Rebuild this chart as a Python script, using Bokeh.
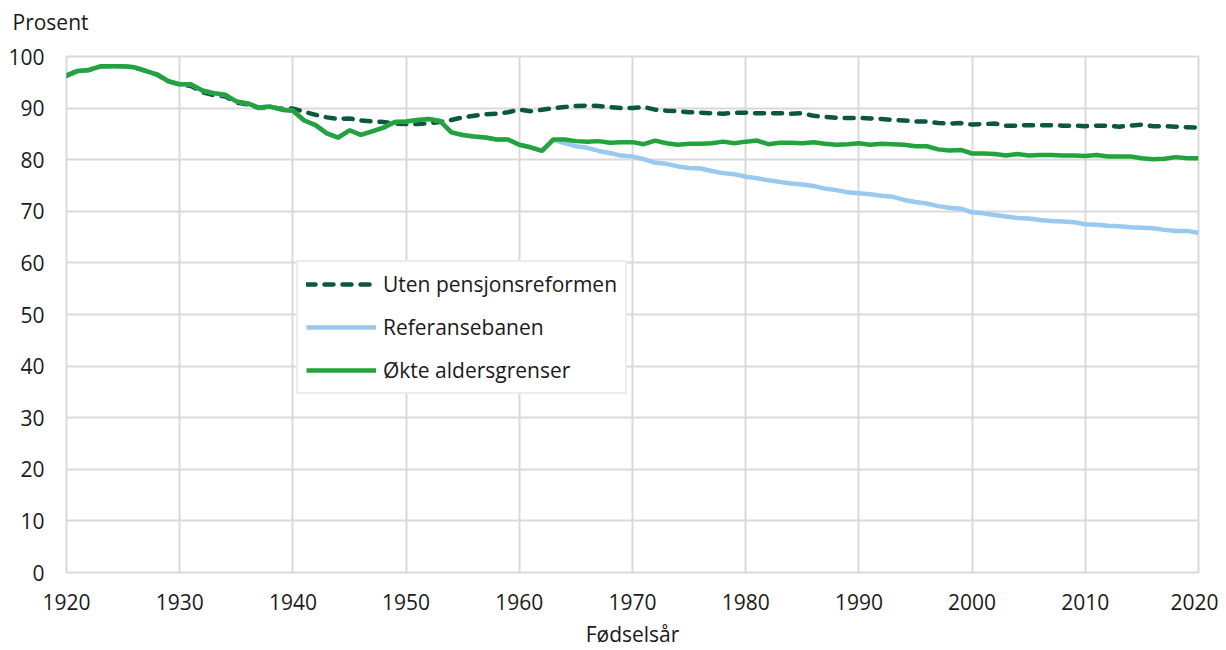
from bokeh.plotting import figure
from bokeh.models import Range1d, Legend, LegendItem, FixedTicker, Title
from bokeh.embed import file_html
from bokeh.resources import INLINE

years = list(range(1920, 2021))

okte = [96.3, 97.2, 97.4, 98.1, 98.1, 98.1, 97.9, 97.2, 96.5, 95.2,
        94.6, 94.6, 93.4, 92.9, 92.6, 91.3, 90.9, 90.1, 90.3, 89.7,
        89.5, 87.6, 86.7, 85.1, 84.3, 85.7, 84.8, 85.5, 86.2, 87.3,
        87.4, 87.7, 87.9, 87.5, 85.3, 84.8, 84.5, 84.3, 83.9, 83.9,
        82.9, 82.4, 81.7, 83.9, 83.9, 83.6, 83.5, 83.6, 83.3, 83.4,
        83.4, 83.0, 83.7, 83.2, 82.9, 83.1, 83.1, 83.2, 83.5, 83.2,
        83.5, 83.7, 83.0, 83.3, 83.3, 83.2, 83.4, 83.1, 82.9, 83.0,
        83.2, 82.9, 83.1, 83.0, 82.9, 82.6, 82.6, 82.0, 81.8, 81.9,
        81.2, 81.2, 81.1, 80.8, 81.1, 80.8, 80.9, 80.9, 80.8, 80.8,
        80.7, 80.9, 80.6, 80.6, 80.6, 80.3, 80.1, 80.2, 80.5, 80.3,
        80.3]

referanse = okte[:43] + [
    83.9, 83.2, 82.6, 82.3, 81.7, 81.3, 80.8,
    80.6, 80.1, 79.4, 79.2, 78.7, 78.4, 78.3, 77.8, 77.4, 77.2,
    76.7, 76.4, 76.0, 75.7, 75.4, 75.2, 74.9, 74.4, 74.1, 73.7,
    73.5, 73.3, 73.0, 72.8, 72.2, 71.8, 71.5, 71.0, 70.7, 70.5,
    69.8, 69.6, 69.3, 69.0, 68.7, 68.6, 68.3, 68.1, 68.0, 67.9,
    67.5, 67.4, 67.2, 67.1, 66.9, 66.8, 66.7, 66.4, 66.2, 66.2,
    65.8]

uten = okte[:11] + [
    94.3, 93.1, 92.5, 92.3, 91.1, 90.7, 90.0, 90.2, 89.9,
    89.9, 89.3, 88.7, 88.2, 87.9, 88.0, 87.6, 87.4, 87.3, 87.0,
    86.9, 86.9, 87.1, 87.3, 87.7, 88.2, 88.5, 88.8, 88.9, 89.2,
    89.7, 89.4, 89.7, 90.0, 90.2, 90.4, 90.5, 90.4, 90.2, 90.0,
    90.0, 90.2, 89.7, 89.5, 89.4, 89.2, 89.1, 89.0, 88.9, 89.1,
    89.1, 89.0, 89.0, 89.0, 88.9, 89.0, 88.5, 88.3, 88.1, 88.1,
    88.1, 88.0, 87.9, 87.7, 87.6, 87.4, 87.4, 87.1, 87.0, 87.1,
    86.8, 86.9, 87.0, 86.6, 86.6, 86.7, 86.7, 86.7, 86.6, 86.6,
    86.5, 86.6, 86.6, 86.4, 86.6, 86.8, 86.5, 86.5, 86.4, 86.3,
    86.2]

series_names = ["Uten pensjonsreformen", "Referansebanen", "Økte aldersgrenser"]
x_ticks = list(range(1920, 2021, 10))
y_ticks = list(range(0, 101, 10))

FONT = "Open Sans"
FS = "21px"
TXT = "#1a1a1a"
GRID = "#d9d9d9"

p = figure(width=1218, height=650, output_backend="svg", toolbar_location=None,
           x_range=Range1d(1920, 2020), y_range=Range1d(0, 100),
           min_border_left=66, min_border_right=20, min_border_top=56,
           min_border_bottom=78)

# real title (outermost in the above panel)
p.title.text = "Prosent"
p.title.text_font = FONT
p.title.text_font_size = FS
p.title.text_font_style = "normal"
p.title.text_color = TXT
p.title.align = "left"
p.title.offset = -54
p.title.standoff = 0

# spacer between frame and title
p.add_layout(Title(text=" ", text_font_size="1px", standoff=18), "above")

p.outline_line_color = GRID
p.outline_line_width = 2
p.background_fill_color = "white"
p.border_fill_color = "white"

for ax in (p.xaxis[0], p.yaxis[0]):
    ax.axis_line_color = None
    ax.major_tick_line_color = None
    ax.minor_tick_line_color = None
    ax.major_tick_out = 0
    ax.major_tick_in = 0
    ax.major_label_text_font = FONT
    ax.major_label_text_font_size = FS
    ax.major_label_text_color = TXT

p.xaxis[0].ticker = FixedTicker(ticks=x_ticks)
p.yaxis[0].ticker = FixedTicker(ticks=y_ticks)
p.xaxis[0].major_label_standoff = 21
p.yaxis[0].major_label_standoff = 22
p.xaxis[0].axis_label = "Fødselsår"
p.xaxis[0].axis_label_text_font = FONT
p.xaxis[0].axis_label_text_font_size = FS
p.xaxis[0].axis_label_text_font_style = "normal"
p.xaxis[0].axis_label_text_color = TXT
p.xaxis[0].axis_label_standoff = 7

p.xgrid.ticker = FixedTicker(ticks=x_ticks)
p.ygrid.ticker = FixedTicker(ticks=y_ticks)
p.xgrid.grid_line_color = GRID
p.ygrid.grid_line_color = GRID
p.xgrid.grid_line_width = 2
p.ygrid.grid_line_width = 2

r_uten = p.line(years, uten, line_color="#0b5740", line_width=4.5,
                line_dash="9 9", line_cap="round")
r_ref = p.line(years, referanse, line_color="#99c9ee", line_width=4.5)
r_okte = p.line(years, okte, line_color="#23a33b", line_width=4.5)

legend = Legend(items=[LegendItem(label=series_names[0], renderers=[r_uten]),
                       LegendItem(label=series_names[1], renderers=[r_ref]),
                       LegendItem(label=series_names[2], renderers=[r_okte])],
                location=(230, 178))
legend.label_text_font = FONT
legend.label_text_font_size = FS
legend.label_text_color = TXT
legend.glyph_width = 70
legend.glyph_height = 20
legend.label_height = 20
legend.label_standoff = 7
legend.spacing = 15
legend.padding = 8
legend.margin = 0
legend.border_line_color = GRID
legend.border_line_width = 2
legend.background_fill_color = "white"
legend.background_fill_alpha = 1.0
p.add_layout(legend, "center")

open("out.html", "w").write(file_html(p, INLINE))
